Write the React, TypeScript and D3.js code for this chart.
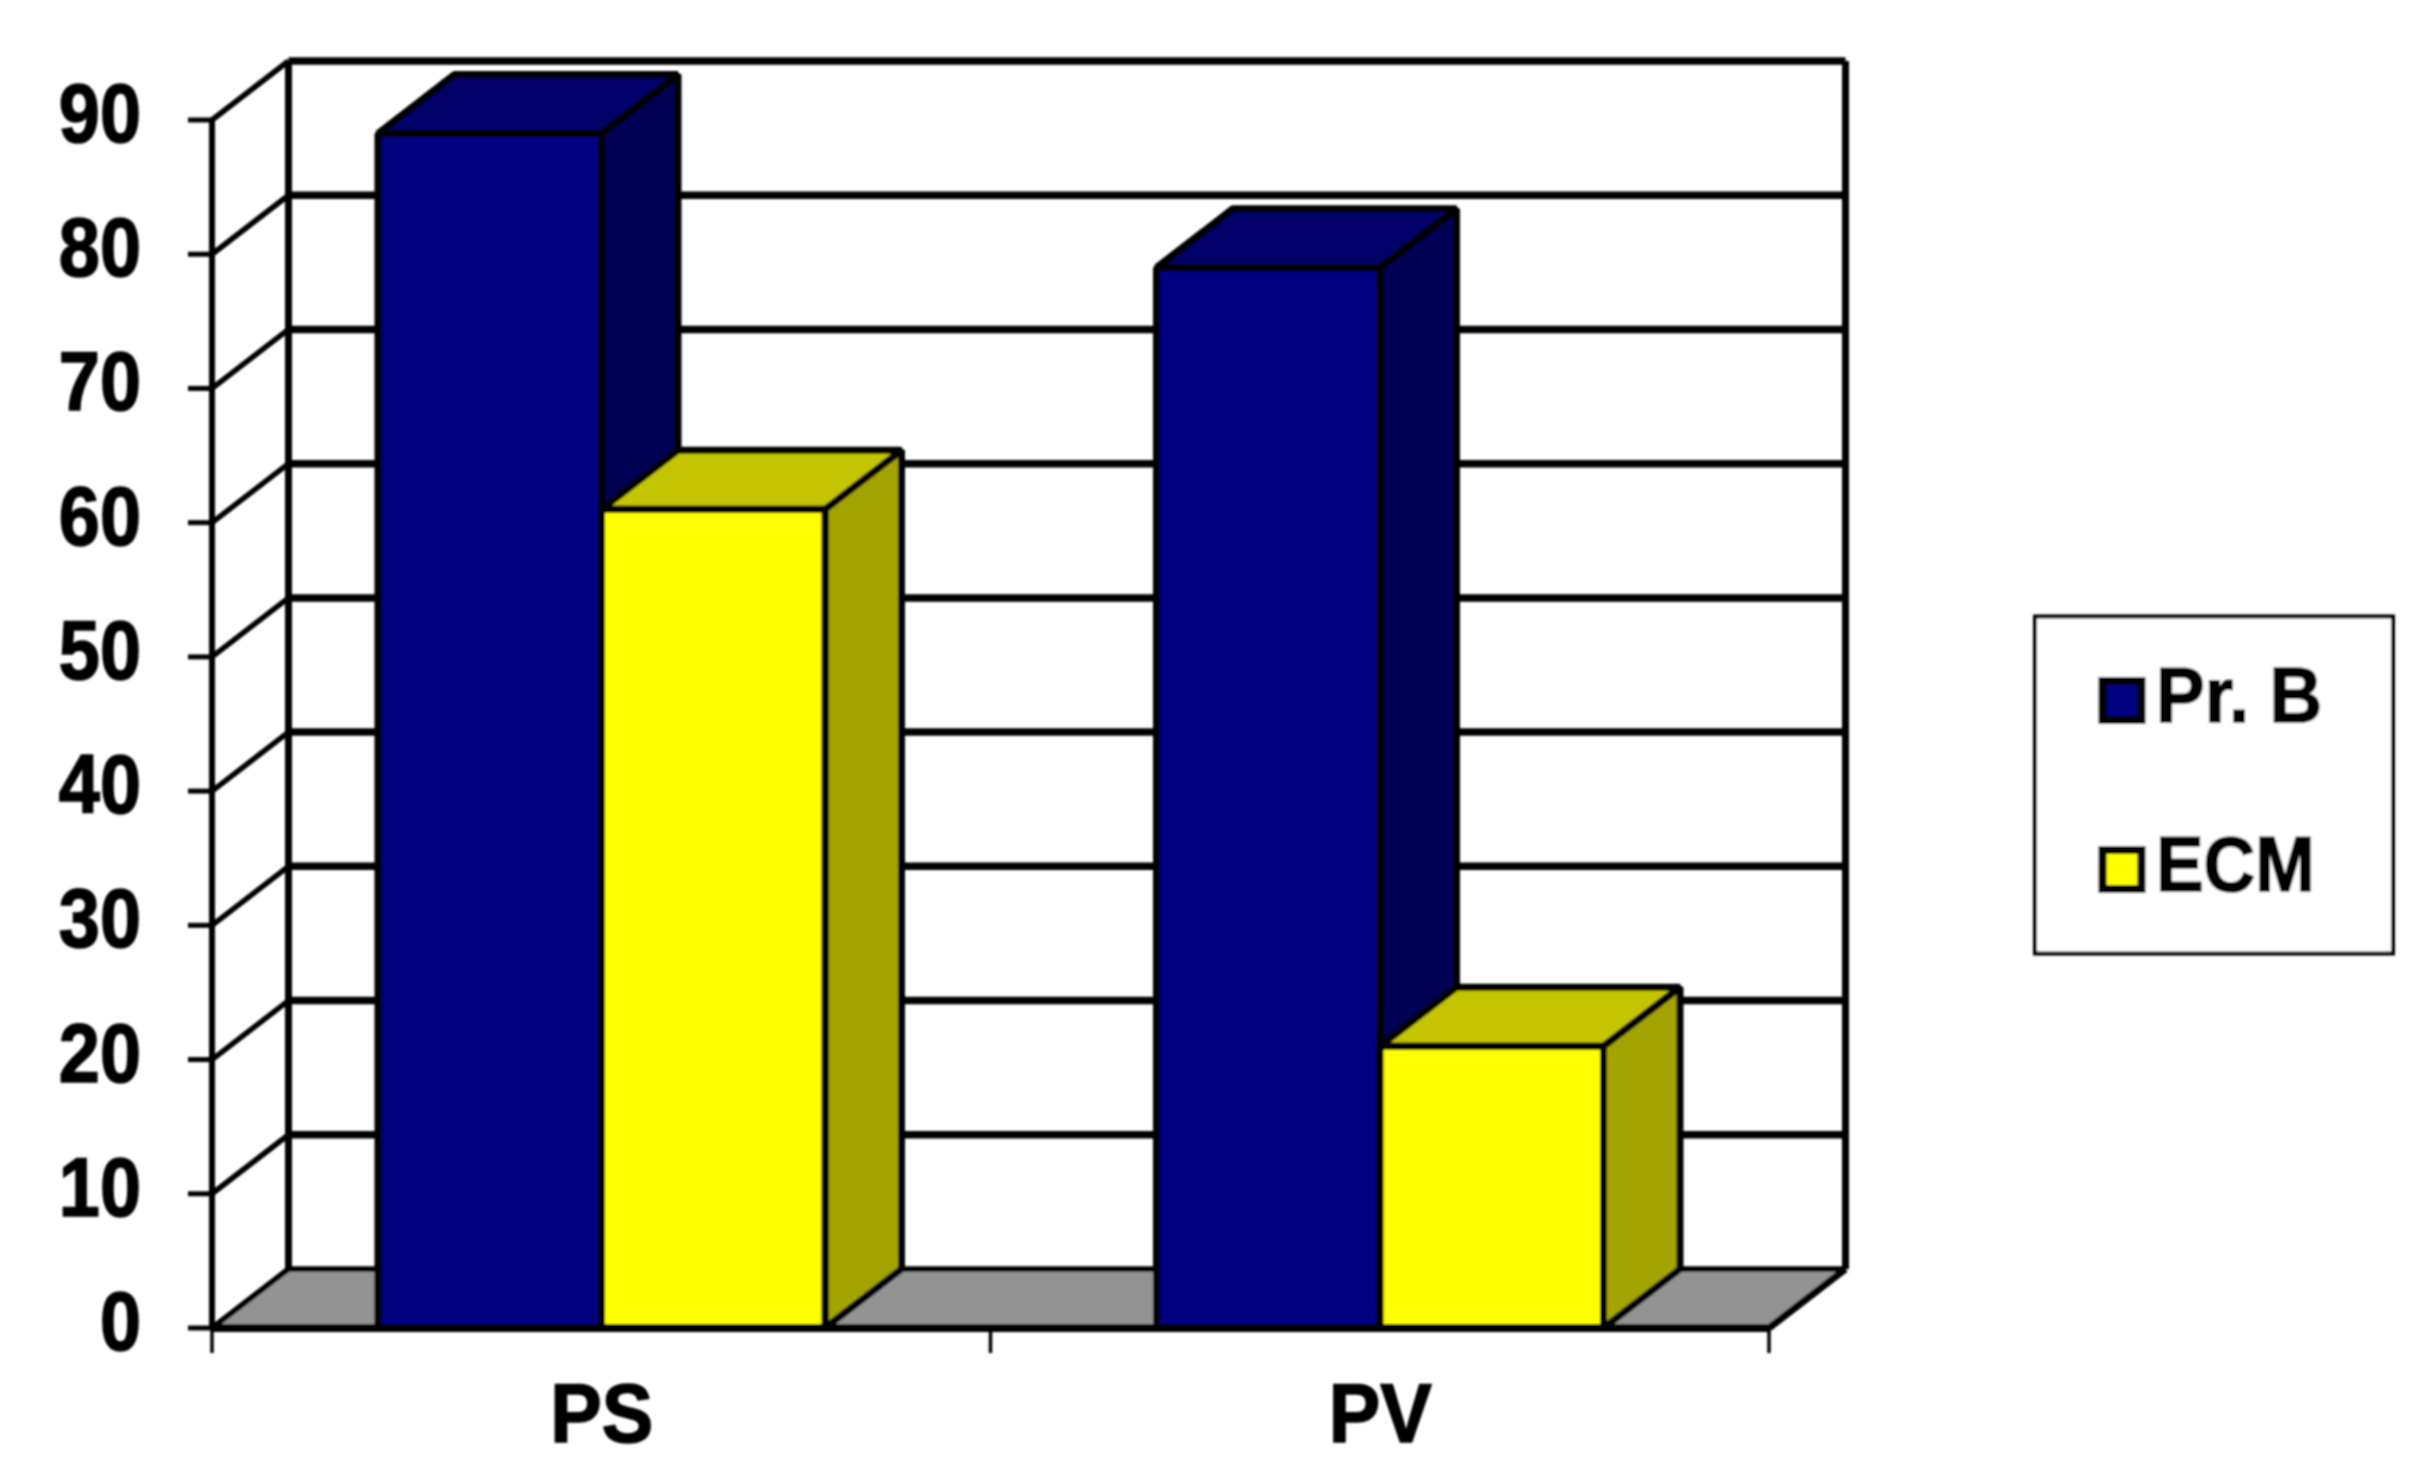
import React from "react";
import * as d3 from "d3";

const categories = ["PS", "PV"];
const seriesNames = ["Pr. B", "ECM"];
const prB = [89, 79];
const ecm = [61, 21];
const yTicks = [0, 10, 20, 30, 40, 50, 60, 70, 80, 90];

const FONT = "'Liberation Sans', Arial, sans-serif";
const DX = 76.5;
const DY = 59;
const SW = 7;

const palette = [
  { front: "#000080", top: "#000068", side: "#000055" },
  { front: "#ffff00", top: "#c4c400", side: "#a3a300" },
];

const y = d3.scaleLinear().domain([0, 90]).range([1328, 120]);
const x0 = d3.scaleBand<string>().domain(categories).range([212, 1769]);
const x1 = d3.scaleBand<string>().domain(seriesNames).range([166, 613]);

function Txt({ x, y, size, anchor, sx = 0.89, children }: any) {
  return (
    <text
      transform={`translate(${x},${y}) scale(${sx},1)`}
      fontFamily={FONT}
      fontWeight="bold"
      fontSize={size}
      textAnchor={anchor}
      fill="#000"
      stroke="#000"
      strokeWidth={1.6}
    >
      {children}
    </text>
  );
}

export default function App() {
  const seriesValues = [prB, ecm];
  const left = 212;
  const right = 1769;
  const base = y(0);
  const top = y(90);
  const poly = (pts: number[][]) => pts.map((p) => p.join(",")).join(" ");

  return (
    <svg
      width={2430}
      height={1473}
      viewBox="0 0 2430 1473"
      style={{ position: "absolute", left: 0, top: 0, display: "block", background: "#fff" }}
    >
      <defs>
        <filter id="soft" x="-2%" y="-2%" width="104%" height="104%">
          <feGaussianBlur stdDeviation="0.8" />
        </filter>
      </defs>
      <g filter="url(#soft)">
        {/* floor */}
        <polygon
          points={poly([
            [left, base],
            [left + DX, base - DY],
            [right + DX, base - DY],
            [right, base],
          ])}
          fill="#939393"
        />
        {/* walls and gridlines */}
        {yTicks.map((t) => (
          <g key={t} stroke="#000" fill="none">
            <line x1={left + DX} x2={right + DX} y1={y(t) - DY} y2={y(t) - DY} strokeWidth={t === 0 ? 5.5 : 7.5} />
            <line x1={left} x2={left + DX} y1={y(t)} y2={y(t) - DY} strokeWidth={5.5} />
            <line x1={left - 24} x2={left} y1={y(t)} y2={y(t)} strokeWidth={5} />
          </g>
        ))}
        <line x1={left} x2={left} y1={top} y2={base} stroke="#000" strokeWidth={6} />
        <line x1={left + DX} x2={left + DX} y1={top - DY} y2={base - DY} stroke="#000" strokeWidth={7} />
        <line x1={right + DX} x2={right + DX} y1={top - DY} y2={base - DY} stroke="#000" strokeWidth={7} />
        <line x1={right} x2={right + DX} y1={base} y2={base - DY} stroke="#000" strokeWidth={7} />

        {/* bars */}
        {categories.map((c, ci) =>
          seriesNames.map((s, si) => {
            const v = seriesValues[si][ci];
            const xa = x0(c)! + x1(s)!;
            const xb = xa + x1.bandwidth();
            const yt = y(v);
            const col = palette[si];
            return (
              <g key={c + s} stroke="#000" strokeWidth={SW} strokeLinejoin="bevel">
                <polygon
                  points={poly([
                    [xb, yt],
                    [xb + DX, yt - DY],
                    [xb + DX, base - DY],
                    [xb, base],
                  ])}
                  fill={col.side}
                />
                <polygon
                  points={poly([
                    [xa, yt],
                    [xa + DX, yt - DY],
                    [xb + DX, yt - DY],
                    [xb, yt],
                  ])}
                  fill={col.top}
                />
                <rect x={xa} y={yt} width={xb - xa} height={base - yt} fill={col.front} />
              </g>
            );
          })
        )}

        {/* front axis */}
        <line x1={left} x2={right} y1={base} y2={base} stroke="#000" strokeWidth={8} />
        {[left, (left + right) / 2, right].map((tx) => (
          <line key={tx} x1={tx} x2={tx} y1={base} y2={base + 25} stroke="#000" strokeWidth={3.5} />
        ))}

        {/* labels */}
        {yTicks.map((t) => (
          <Txt key={t} x={141} y={y(t) + 22} size={83} anchor="end">
            {d3.format("d")(t)}
          </Txt>
        ))}
        {categories.map((c) => (
          <Txt key={c} x={x0(c)! + x0.bandwidth() / 2 + 0.5} y={1442} size={83} anchor="middle" sx={0.93}>
            {c}
          </Txt>
        ))}

        {/* legend */}
        <rect x={2035} y={616.5} width={358} height={337} fill="#fff" stroke="#000" strokeWidth={4} />
        {seriesNames.map((s, i) => {
          const ly = i === 0 ? 722 : 891;
          return (
            <g key={s}>
              <rect x={2102.5} y={ly - 41} width={39} height={39} fill={palette[i].front} stroke="#000" strokeWidth={8} />
              <Txt x={2156} y={ly} size={78} anchor="start" sx={i === 0 ? 0.935 : 0.915}>
                {s}
              </Txt>
            </g>
          );
        })}
      </g>
    </svg>
  );
}
